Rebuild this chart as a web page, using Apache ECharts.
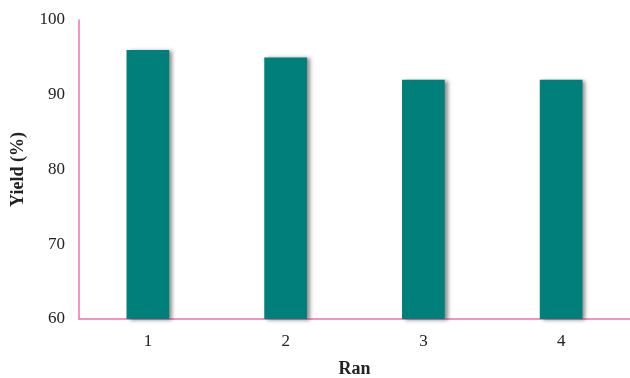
<!DOCTYPE html>
<html>
<head>
<meta charset="utf-8">
<script src="https://cdn.jsdelivr.net/npm/echarts@6/dist/echarts.min.js"></script>
<style>
  html, body { margin: 0; padding: 0; background: #fff; }
  #chart { width: 630px; height: 378px; }
</style>
</head>
<body>
<div id="chart"></div>
<script>
// Run numbers and their yields (%)
const runs = ['1', '2', '3', '4'];
const yields = [96, 95, 92, 92];
const yTicks = [60, 70, 80, 90, 100];

const axisPink = '#f46fae';
const barTeal = '#007f7b';
const serif = '"Liberation Serif", "Times New Roman", serif';

const chart = echarts.init(document.getElementById('chart'), null, { renderer: 'canvas' });
chart.setOption({
  animation: false,
  grid: { left: 79, right: 0, top: 20, bottom: 59, containLabel: false, outerBoundsMode: 'none' },
  xAxis: {
    type: 'category',
    data: runs,
    name: 'Ran',
    nameLocation: 'middle',
    nameGap: 41,
    nameTextStyle: { fontFamily: serif, fontSize: 18, fontWeight: 'bold', color: '#222' },
    axisLine: { lineStyle: { color: axisPink, width: 1.5 } },
    axisTick: { show: false },
    axisLabel: { fontFamily: serif, fontSize: 17, color: '#222', margin: 14 }
  },
  yAxis: {
    type: 'value',
    min: yTicks[0],
    max: yTicks[yTicks.length - 1],
    interval: 10,
    name: 'Yield (%)',
    nameLocation: 'middle',
    nameGap: 52,
    nameTextStyle: { fontFamily: serif, fontSize: 18, fontWeight: 'bold', color: '#222' },
    axisLine: { show: true, lineStyle: { color: axisPink, width: 1.5 } },
    axisTick: { show: false },
    splitLine: { show: false },
    axisLabel: { fontFamily: serif, fontSize: 17, color: '#222', margin: 14 }
  },
  series: [{
    type: 'bar',
    data: yields,
    barWidth: '31%',
    itemStyle: {
      color: barTeal,
      shadowColor: 'rgba(0,0,0,0.45)',
      shadowBlur: 4,
      shadowOffsetX: 3,
      shadowOffsetY: 1
    }
  }]
});
</script>
</body>
</html>
